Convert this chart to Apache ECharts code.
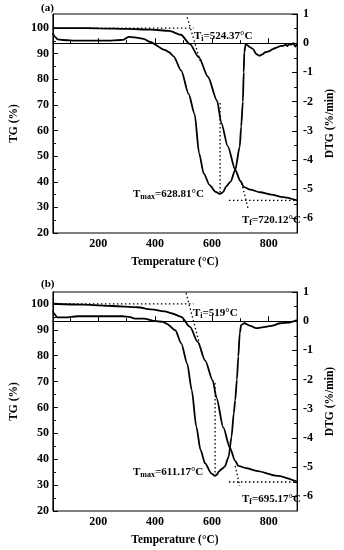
<!DOCTYPE html>
<html>
<head>
<meta charset="utf-8">
<script src="https://cdn.jsdelivr.net/npm/echarts@6/dist/echarts.min.js"></script>
<style>html,body{margin:0;padding:0;background:#fff}#c{width:344px;height:550px}</style>
</head>
<body>
<div id="c"></div>
<script>
// ---- data (temperature °C, value) ----
const tgA = [[40,100.0],[120,100.0],[200,99.9],[300,99.7],[386,99.4],[449,98.9],[491,97.4],[522,93.8],[554,88.6],[586,81.0],[618,71.7],[633,63.0],[656,53.8],[682,44.7],[700,40.3],[712,38.0],[735,36.9],[770,35.9],[809,35.0],[850,34.0],[900,32.7]];
const dtgA = [[40,0.34],[48,0.22],[56,0.13],[74,0.11],[126,0.09],[233,0.09],[280,0.11],[291,0.12],[297,0.17],[307,0.22],[328,0.2],[360,0.15],[380,0.05],[434,-0.23],[449,-0.31],[465,-0.45],[492,-0.94],[518,-1.74],[539,-2.42],[555,-3.77],[571,-4.46],[592,-4.86],[613,-5.09],[627,-5.16],[633,-5.14],[640,-5.09],[650,-4.91],[666,-4.74],[682,-4.34],[698,-3.54],[703,-2.86],[709,-2.0],[712,-1.0],[714,-0.31],[719,-0.03],[735,-0.14],[745,-0.2],[756,-0.37],[767,-0.43],[778,-0.38],[788,-0.31],[800,-0.28],[815,-0.2],[830,-0.14],[840,-0.1],[851,-0.09],[860,-0.05],[866,-0.1],[872,-0.03],[880,-0.05],[887,0.0],[894,-0.12],[900,-0.01]];
const tgB = [[40,100.06],[150,99.7],[250,99.2],[338,98.7],[386,97.9],[434,97.1],[460,96.3],[492,95.0],[523,91.1],[550,85.3],[576,78.2],[603,70.4],[616,63.8],[640,52.3],[663,44.5],[682,39.4],[693,37.4],[720,36.6],[756,35.5],[830,33.6],[899,31.4]];
const dtgB = [[40,0.34],[45,0.25],[55,0.13],[84,0.13],[127,0.17],[200,0.17],[284,0.17],[312,0.14],[328,0.09],[360,0.09],[402,0.0],[428,-0.02],[440,-0.08],[471,-0.31],[492,-0.76],[513,-1.45],[529,-2.36],[545,-3.61],[560,-4.41],[576,-4.87],[598,-5.21],[611,-5.30],[618,-5.25],[624,-5.15],[634,-5.07],[645,-4.98],[659,-4.64],[669,-3.96],[677,-3.15],[682,-2.70],[688,-2.0],[693,-1.21],[698,-0.41],[703,-0.13],[714,-0.07],[735,-0.16],[756,-0.24],[777,-0.21],[809,-0.16],[841,-0.07],[872,-0.05],[890,0.0],[899,0.04]];

// construction lines
const tiHorizA = [[40,100],[535,100]];
const tiTanA = [[513,104.2],[560,86.7]];
const tmaxA = [[628.81,-2.05],[628.81,-5.16]];
const tfHorizA = [[660,32.7],[900,32.7]];
const tfTanA = [[705,39.5],[727,29.7]];
const tiHorizB = [[40,100],[535,100]];
const tiTanB = [[509,104.2],[567,80.1]];
const tmaxB = [[611.17,-2.12],[611.17,-5.30]];
const tfHorizB = [[660,31.2],[900,31.2]];
const tfTanB = [[682,37.4],[698,29.7]];

// ticks
const xLabelTicks = [200,400,600,800];
const xMinorTicks = [100,300,500,700];
const tgTicks = [20,30,40,50,60,70,80,90,100];
const tgMinor = [25,35,45,55,65,75,85,95];
const dtgTicks = [-6,-5,-4,-3,-2,-1,0,1];
const dtgMinor = [-5.5,-4.5,-3.5,-2.5,-1.5,-0.5,0.5];

const FONT = 'Liberation Serif';
const tick = {fontFamily: FONT, fontWeight: 'bold', fontSize: 12, color: '#000'};
const nameTxt = {fontFamily: FONT, fontWeight: 'bold', fontSize: 11.5, color: '#000'};
const black = {color: '#000', width: 1};

function xMain(g){
  return {gridIndex: g, type: 'value', min: 40, max: 900, position: 'bottom',
    axisLine: {show: true, lineStyle: black},
    axisTick: {show: true, inside: true, length: 5, lineStyle: black, customValues: xLabelTicks},
    axisLabel: Object.assign({customValues: xLabelTicks, margin: 5}, tick),
    splitLine: {show: false},
    name: 'Temperature (°C)', nameLocation: 'middle', nameGap: 23, nameTextStyle: nameTxt};
}
function xMinor(g){
  return {gridIndex: g, type: 'value', min: 40, max: 900, position: 'bottom',
    axisLine: {show: false}, axisLabel: {show: false}, splitLine: {show: false},
    axisTick: {show: true, inside: true, length: 3, lineStyle: black, customValues: xMinorTicks}};
}
function yTG(g, max){
  return {gridIndex: g, type: 'value', min: 20, max: max, position: 'left',
    axisLine: {show: true, lineStyle: black},
    axisTick: {show: true, inside: true, length: 5, lineStyle: black, customValues: tgTicks},
    axisLabel: Object.assign({customValues: tgTicks, margin: 4}, tick),
    splitLine: {show: false},
    name: 'TG (%)', nameLocation: 'middle', nameGap: 30, nameRotate: 90, nameTextStyle: nameTxt};
}
function yTGMinor(g, max){
  return {gridIndex: g, type: 'value', min: 20, max: max, position: 'left',
    axisLine: {show: false}, axisLabel: {show: false}, splitLine: {show: false},
    axisTick: {show: true, inside: true, length: 3, lineStyle: black, customValues: tgMinor}};
}
function yDTG(g){
  return {gridIndex: g, type: 'value', min: -6.5, max: 1, position: 'right',
    axisLine: {show: true, lineStyle: black},
    axisTick: {show: true, inside: true, length: 5, lineStyle: black, customValues: dtgTicks},
    axisLabel: Object.assign({customValues: dtgTicks, margin: 6}, tick),
    splitLine: {show: false},
    name: 'DTG (%/min)', nameLocation: 'middle', nameGap: 22, nameRotate: 90, nameTextStyle: nameTxt};
}
function yDTGMinor(g){
  return {gridIndex: g, type: 'value', min: -6.5, max: 1, position: 'right',
    axisLine: {show: false}, axisLabel: {show: false}, splitLine: {show: false},
    axisTick: {show: true, inside: true, length: 3, lineStyle: black, customValues: dtgMinor}};
}

function curve(data, xi, yi){
  return {type: 'line', data: data, xAxisIndex: xi, yAxisIndex: yi, showSymbol: false,
    smooth: 0.25, smoothMonotone: 'x', lineStyle: {color: '#000', width: 1.8}, silent: true, animation: false};
}
function dots(data, xi, yi){
  return {type: 'line', data: data, xAxisIndex: xi, yAxisIndex: yi, showSymbol: false,
    lineStyle: {color: '#000', width: 1.3, type: [1.5, 2.5]}, silent: true, animation: false};
}

const rich = {
  t: {fontFamily: FONT, fontWeight: 'bold', fontSize: 11, fill: '#000'},
  s: {fontFamily: FONT, fontWeight: 'bold', fontSize: 8, fill: '#000', padding: [6, 0, 0, 0]}
};
function label(x, y, main, sub, rest){
  return {type: 'text', x: x, y: y, style: {text: '{t|' + main + '}{s|' + sub + '}{t|' + rest + '}', rich: rich, verticalAlign: 'middle', align: 'left'}};
}
function plain(x, y, s){
  return {type: 'text', x: x, y: y, style: {text: s, fontFamily: FONT, fontWeight: 'bold', fontSize: 11, fill: '#000', verticalAlign: 'middle', align: 'left'}};
}

const chart = echarts.init(document.getElementById('c'));
chart.setOption({
  backgroundColor: '#fff',
  animation: false,
  grid: [
    {left: 41, top: 14, width: 271, height: 219, show: true, borderColor: '#000', borderWidth: 1, backgroundColor: 'transparent'},
    {left: 41, top: 292, width: 271, height: 219, show: true, borderColor: '#000', borderWidth: 1, backgroundColor: 'transparent'}
  ],
  xAxis: [xMain(0), xMinor(0), xMain(1), xMinor(1)],
  yAxis: [yTG(0, 105.5), yTGMinor(0, 105.5), yDTG(0), yDTGMinor(0), yTG(1, 104.6), yTGMinor(1, 104.6), yDTG(1), yDTGMinor(1)],
  series: [
    curve(tgA, 0, 0), curve(dtgA, 0, 2),
    dots(tiHorizA, 0, 0), dots(tiTanA, 0, 0), dots(tmaxA, 0, 2), dots(tfHorizA, 0, 0), dots(tfTanA, 0, 0),
    curve(tgB, 2, 4), curve(dtgB, 2, 6),
    dots(tiHorizB, 2, 4), dots(tiTanB, 2, 4), dots(tmaxB, 2, 6), dots(tfHorizB, 2, 4), dots(tfTanB, 2, 4)
  ],
  graphic: [
    plain(41, 8, '(a)'),
    label(194, 36, 'T', 'i', '=524.37°C'),
    label(133, 194, 'T', 'max', '=628.81°C'),
    label(242, 220, 'T', 'f', '=720.12°C'),
    plain(41, 284, '(b)'),
    label(193, 313, 'T', 'i', '=519°C'),
    label(133, 472, 'T', 'max', '=611.17°C'),
    label(242, 499, 'T', 'f', '=695.17°C')
  ]
});
</script>
</body>
</html>
